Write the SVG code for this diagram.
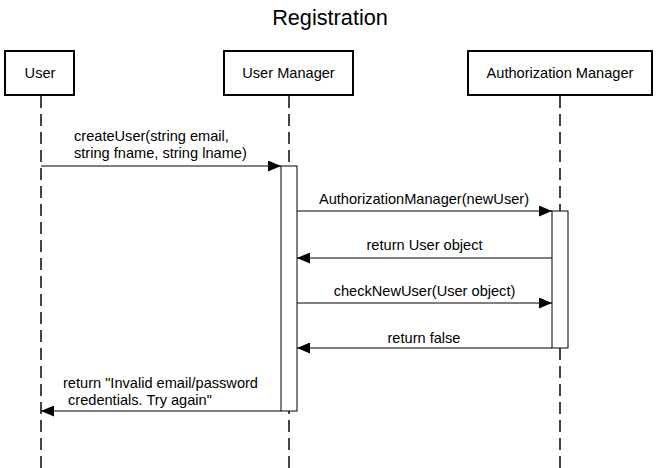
<svg xmlns="http://www.w3.org/2000/svg" width="659" height="468" viewBox="0 0 659 468">
<style>
text{font-family:"Liberation Sans",Arial,sans-serif;font-size:14.6px;fill:#000}
.box{fill:#fff;stroke:#000;stroke-width:2}
.life{stroke:#444;stroke-width:2;stroke-dasharray:12 6;fill:none}
.act{fill:#fff;stroke:#000;stroke-width:1}
.msg{stroke:#000;stroke-width:1;fill:none;marker-end:url(#ah)}
.c{text-anchor:middle}
</style>
<defs>
<marker id="ah" markerWidth="13" markerHeight="11" refX="13" refY="5.5" orient="auto" markerUnits="userSpaceOnUse">
<path d="M0,0 L13,5.5 L0,11 Z" fill="#000"/>
</marker>
</defs>
<rect width="659" height="468" fill="#fff"/>
<text x="330" y="25" class="c" style="font-size:21.7px">Registration</text>
<g id="user">
<line class="life" x1="41" y1="96" x2="41" y2="468"/>
<rect class="box" x="5" y="51" width="69" height="44"/>
<text x="40" y="78" class="c">User</text>
</g>
<g id="userManager">
<line class="life" x1="289" y1="96" x2="289" y2="468"/>
<rect class="box" x="224" y="51" width="129" height="44"/>
<text x="288.5" y="78" class="c">User Manager</text>
<rect class="act" x="281" y="166" width="16" height="245"/>
</g>
<g id="authorizationManager">
<line class="life" x1="560" y1="96" x2="560" y2="468"/>
<rect class="box" x="468" y="51" width="184" height="44"/>
<text x="560" y="78" class="c">Authorization Manager</text>
<rect class="act" x="552" y="211" width="16" height="137"/>
</g>
<g id="connectors">
<line class="msg" x1="41" y1="166" x2="281" y2="166"/>
<text x="74" y="141">createUser(string email,</text>
<text x="74" y="158">string fname, string lname)</text>
<line class="msg" x1="297" y1="211" x2="552" y2="211"/>
<text x="424" y="204" class="c">AuthorizationManager(newUser)</text>
<line class="msg" x1="552" y1="258" x2="297" y2="258"/>
<text x="424.5" y="250" class="c">return User object</text>
<line class="msg" x1="297" y1="303" x2="552" y2="303"/>
<text x="424.5" y="296" class="c">checkNewUser(User object)</text>
<line class="msg" x1="552" y1="348" x2="297" y2="348"/>
<text x="424" y="343" class="c">return false</text>
<line class="msg" x1="281" y1="411" x2="41" y2="411"/>
<text x="63" y="388">return "Invalid email/password</text>
<text x="68" y="405">credentials. Try again"</text>
</g>
</svg>
